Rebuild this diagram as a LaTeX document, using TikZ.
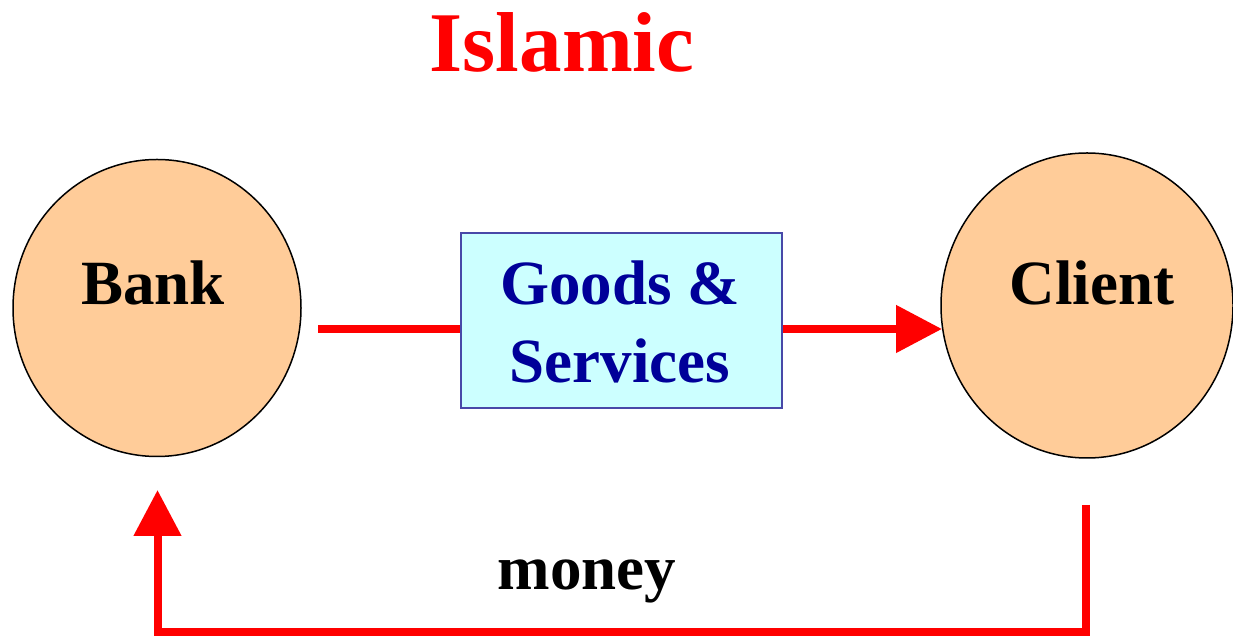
\documentclass[tikz,border=0pt]{standalone}
\usepackage{fontspec}
\setmainfont{Liberation Serif}
\usetikzlibrary{shapes.geometric,arrows.meta}
\definecolor{party}{HTML}{FFCC99}
\definecolor{boxfill}{HTML}{CCFFFF}
\definecolor{boxline}{HTML}{4848A8}
\definecolor{boxtext}{HTML}{000099}
\tikzset{
  party/.style={ellipse, draw=black, line width=1.5pt, fill=party, inner sep=0pt},
  bigtext/.style={font=\fontsize{63}{78}\selectfont\bfseries, inner sep=0pt, anchor=base},
  flow/.style={draw=red, line width=8pt, line join=miter,
    -{Triangle[length=46pt,width=46pt]}},
}
\begin{document}
\begin{tikzpicture}[x=1pt,y=1pt]
  \useasboundingbox (0,0) rectangle (1233,636);

  % title
  \node[bigtext, text=red, font=\fontsize{85}{90}\selectfont\bfseries] (title) at (562,564) {Islamic};

  % the two parties
  \node[party, minimum width=288pt, minimum height=297pt] (bank) at (157,328) {};
  \node[party, minimum width=292pt, minimum height=305pt] (client) at (1087,330.5) {};
  \node[bigtext] (banklbl) at (153,331) {Bank};
  \node[bigtext] (clientlbl) at (1092,331) {Client};

  % goods box
  \node[draw=boxline, line width=1.2pt, fill=boxfill, minimum width=321pt,
        minimum height=175pt, inner sep=0pt] (goods) at (621.5,315.5) {};
  \node[bigtext, text=boxtext] (goods1) at (620,331) {Goods \&};
  \node[bigtext, text=boxtext] (goods2) at (620,253) {Services};

  % money label
  \node[bigtext] (money) at (587,46) {money};

  % goods flow: bank -> box -> client
  \coordinate (gstart) at (318,307);
  \coordinate (gtip) at (942,307);
  \draw[draw=red, line width=8pt] (gstart) -- (goods.west |- gstart);
  \draw[flow] (goods.east |- gstart) -- (gtip);

  % money flow: client -> bank
  \coordinate (mstart) at (1085.5,131);
  \coordinate (mright) at (1085.5,4);
  \coordinate (mleft) at (157.5,4);
  \coordinate (mtip) at (157.5,146);
  \draw[flow] (mstart) -- (mright) -- (mleft) -- (mtip);
\end{tikzpicture}
\end{document}
